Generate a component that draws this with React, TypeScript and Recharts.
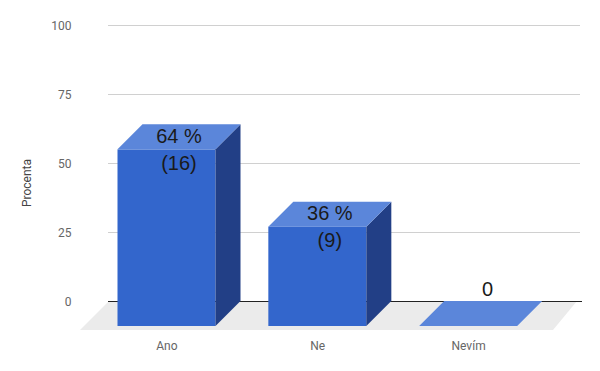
import React from 'react';
import { BarChart, Bar, XAxis, YAxis, CartesianGrid, Label } from 'recharts';

const categories = ['Ano', 'Ne', 'Nevím'];
const percents = [64, 36, 0];
const counts = [16, 9, 0];
const yTicks = [0, 25, 50, 75, 100];

const data = categories.map((name, i) => ({ name, pct: percents[i], count: counts[i] }));

const DEPTH = 25;
const FRONT = '#3366cc';
const TOP = '#5b86da';
const SIDE = '#223f86';
const LABEL_FONT = '"Liberation Sans", Arial, sans-serif';
const AXIS_FONT = 'Roboto, "Noto Sans", sans-serif';

function Bar3D(props: any) {
  const { x, y, width: w, height: h, index } = props;
  const d = DEPTH;
  const pct = props.payload?.pct ?? percents[index];
  const cnt = props.payload?.count ?? counts[index];
  const cx = x + w / 2 + d / 2;
  const top = `${x},${y + d} ${x + w},${y + d} ${x + w + d},${y} ${x + d},${y}`;
  const side = `${x + w},${y + d} ${x + w + d},${y} ${x + w + d},${y + h} ${x + w},${y + h + d}`;
  return (
    <g>
      {h > 0 && <rect x={x} y={y + d} width={w} height={h} fill={FRONT} />}
      {h > 0 && <polygon points={side} fill={SIDE} />}
      <polygon points={top} fill={TOP} />
      {pct > 0 ? (
        <g fontFamily={LABEL_FONT} fontSize={20} fill="#1a1a1a" textAnchor="middle">
          <text x={cx} y={y + d / 2 - 1} dominantBaseline="central">{`${pct} %`}</text>
          <text x={cx} y={y + d / 2 + 26} dominantBaseline="central">{`(${cnt})`}</text>
        </g>
      ) : (
        <text x={cx + 7} y={y - 12} fontFamily={LABEL_FONT} fontSize={20} fill="#1a1a1a" textAnchor="middle" dominantBaseline="central">
          {`${pct}`}
        </text>
      )}
    </g>
  );
}

const gridLine = (p: any) => {
  const { x1, x2, y1, key } = p;
  const bottom = p.y + p.height;
  const isZero = Math.abs(y1 - bottom) < 1;
  const ly = y1 + 0.5;
  if (isZero) {
    const floor = `${x1 - 11.5},${y1 + 29} ${x2 + 9},${y1 + 29} ${x2 + 33},${y1} ${x1 + 17.5},${y1}`;
    return (
      <g key={key}>
        <polygon points={floor} fill="#ebebeb" />
        <line x1={x1 + 16.5} x2={x2 + 38} y1={ly} y2={ly} stroke="#222" strokeWidth={1} />
      </g>
    );
  }
  return <line key={key} x1={x1 + 16.5} x2={x2 + 36} y1={ly} y2={ly} stroke="#d0d0d0" strokeWidth={1} />;
};

export default function App() {
  return (
    <BarChart
      width={584}
      height={363}
      data={data}
      margin={{ top: 17, right: 48, bottom: 10, left: 0 }}
    >
      <CartesianGrid vertical={false} horizontal={gridLine} stroke="#d0d0d0" />
      <XAxis
        dataKey="name"
        axisLine={false}
        tickLine={false}
        tickSize={6}
        tickMargin={34}
        height={60}
        tick={{ fill: '#666', fontSize: 12, fontFamily: AXIS_FONT }}
      />
      <YAxis
        domain={[0, 100]}
        ticks={yTicks}
        width={83.5}
        axisLine={false}
        tickLine={false}
        tickSize={6}
        tickMargin={14}
        tick={{ fill: '#666', fontSize: 12, fontFamily: AXIS_FONT, dy: 1 }}
      >
        <Label
          content={(lp: any) => {
            const vb = lp.viewBox || {};
            const cy = (vb.y ?? 17) + (vb.height ?? 276) / 2 + 20;
            return (
              <text
                x={19}
                y={cy}
                transform={`rotate(-90, 19, ${cy})`}
                textAnchor="middle"
                dominantBaseline="central"
                fontFamily={AXIS_FONT}
                fontSize={12}
                fill="#444"
              >
                Procenta
              </text>
            );
          }}
        />
      </YAxis>
      <Bar dataKey="pct" barSize={98} shape={<Bar3D />} isAnimationActive={false} />
    </BarChart>
  );
}
